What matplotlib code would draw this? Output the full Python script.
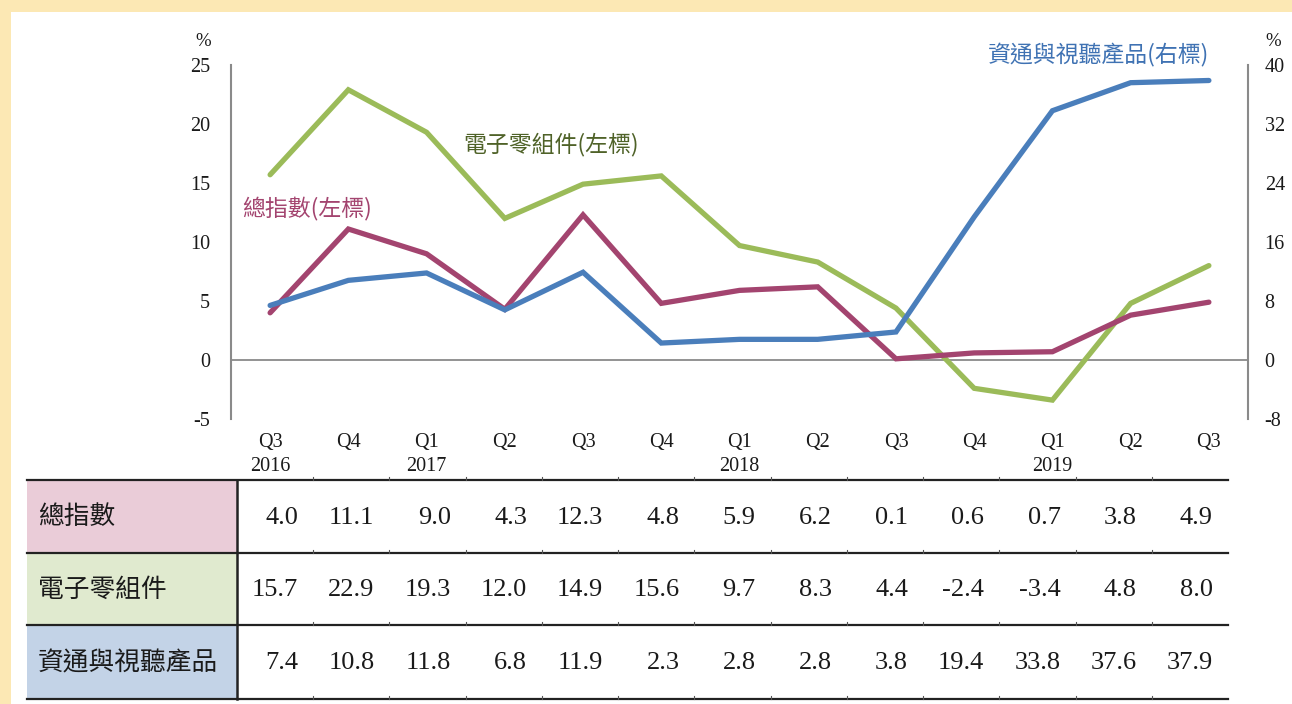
import matplotlib
matplotlib.use("Agg")
import matplotlib.pyplot as plt
from matplotlib.patches import Rectangle
from matplotlib.lines import Line2D

# ---------------- data ----------------
quarters = ["Q3\n2016", "Q4", "Q1\n2017", "Q2", "Q3", "Q4", "Q1\n2018",
            "Q2", "Q3", "Q4", "Q1\n2019", "Q2", "Q3"]
total_index = [4.0, 11.1, 9.0, 4.3, 12.3, 4.8, 5.9, 6.2, 0.1, 0.6, 0.7, 3.8, 4.9]
electronic = [15.7, 22.9, 19.3, 12.0, 14.9, 15.6, 9.7, 8.3, 4.4, -2.4, -3.4, 4.8, 8.0]
ict_av = [7.4, 10.8, 11.8, 6.8, 11.9, 2.3, 2.8, 2.8, 3.8, 19.4, 33.8, 37.6, 37.9]

row_names = ["總指數", "電子零組件", "資通與視聽產品"]
ann_total = "總指數(左標)"
ann_elec = "電子零組件(左標)"
ann_ict = "資通與視聽產品(右標)"
left_ticks = [-5, 0, 5, 10, 15, 20, 25]
right_ticks = [-8, 0, 8, 16, 24, 32, 40]

# ---------------- style ----------------
C_TOTAL = "#A3446F"
C_ELEC = "#9BBB59"
C_ICT = "#4A7EBB"
C_ELEC_TXT = "#4F6228"
C_ICT_TXT = "#3F72B3"
ROW_COLORS = ["#EACCD8", "#E0EACF", "#C3D3E7"]
GRAY = "#8A8A8A"
TXT = "#1A1A1A"

plt.rcParams["font.family"] = ["Liberation Serif", "DejaVu Serif"]
plt.rcParams["axes.unicode_minus"] = False
CJK = ["Noto Sans CJK TC", "DejaVu Sans"]

W, H = 1292, 704
fig = plt.figure(figsize=(W / 100, H / 100), dpi=100, facecolor="#FCE8B4")


def px(x, y):
    return x / W, 1 - y / H


# white panel
fig.patches.append(Rectangle(px(11, H), 1 - 11 / W, 1 - 12 / H,
                             transform=fig.transFigure, facecolor="white",
                             edgecolor="none", zorder=-5))

# ---------------- chart ----------------
L, R, T, B = 231, 1248, 65, 419
ax = fig.add_axes([L / W, 1 - B / H, (R - L) / W, (B - T) / H])
ax.patch.set_alpha(0)
ax2 = ax.twinx()
ax2.patch.set_alpha(0)

x = list(range(len(quarters)))
ax.plot(x, electronic, color=C_ELEC, lw=3.8, solid_capstyle="round", solid_joinstyle="miter", zorder=3)
ax.plot(x, total_index, color=C_TOTAL, lw=3.8, solid_capstyle="round", solid_joinstyle="miter", zorder=3)
ax2.plot(x, ict_av, color=C_ICT, lw=3.8, solid_capstyle="round", solid_joinstyle="miter", zorder=3)

ax.set_xlim(-0.5, len(quarters) - 0.5)
ax.set_ylim(-5, 25)
ax2.set_ylim(-8, 40)
ax.set_yticks(left_ticks)
ax2.set_yticks(right_ticks)
ax.set_xticks(x)
ax.set_xticklabels(quarters, linespacing=1.4)
ax.axhline(0, color=GRAY, lw=1.3, zorder=1)

for a in (ax, ax2):
    for s in ("top", "bottom"):
        a.spines[s].set_visible(False)
ax.spines["right"].set_visible(False)
ax2.spines["left"].set_visible(False)
ax.spines["left"].set_color(GRAY)
ax.spines["left"].set_linewidth(1.5)
ax2.spines["right"].set_color(GRAY)
ax2.spines["right"].set_linewidth(1.5)

ax.tick_params(axis="y", length=0, pad=15, labelsize=14.5, labelcolor=TXT)
ax.tick_params(axis="x", length=0, pad=10, labelsize=14.5, labelcolor=TXT)
ax2.tick_params(axis="y", length=0, pad=12, labelsize=14.5, labelcolor=TXT)

fig.text(*px(203, 42), "%", ha="center", va="center", fontsize=13.5, color=TXT)
fig.text(*px(1273, 42), "%", ha="center", va="center", fontsize=13.5, color=TXT)

fig.text(*px(463, 145), ann_elec, ha="left", va="center", fontsize=16.5,
         color=C_ELEC_TXT, family=CJK)
fig.text(*px(242, 208), ann_total, ha="left", va="center", fontsize=16.5,
         color=C_TOTAL, family=CJK)
fig.text(*px(988, 55), ann_ict, ha="left", va="center", fontsize=16.5,
         color=C_ICT_TXT, family=CJK)

# ---------------- table ----------------
TL, TR = 27, 1228
DIV = 237
row_tops = [480, 553, 625]
row_bot = 699
ncol = len(quarters)
colw = (TR - DIV) / ncol
rows = [total_index, electronic, ict_av]

for i, (name, vals) in enumerate(zip(row_names, rows)):
    top = row_tops[i]
    bot = row_tops[i + 1] if i + 1 < len(row_tops) else row_bot
    x0, y0 = px(TL, bot)
    fig.patches.append(Rectangle((x0, y0), (DIV - TL) / W, (bot - top) / H,
                                 transform=fig.transFigure, facecolor=ROW_COLORS[i],
                                 edgecolor="none", zorder=1))
    yc = (top + bot) / 2
    fig.text(*px(38, yc + 1), name, ha="left", va="center", fontsize=18.5,
             color=TXT, family=CJK)
    for j, v in enumerate(vals):
        xr = DIV + colw * (j + 1) - 15
        fig.text(*px(xr, yc + 1), f"{v:.1f}", ha="right", va="center",
                 fontsize=19, color=TXT)

for y in row_tops + [row_bot]:
    fig.add_artist(Line2D([TL / W, TR / W], [1 - y / H, 1 - y / H],
                          transform=fig.transFigure, color="#222222", lw=1.6, zorder=3))
    # small column tick marks
    for j in range(1, ncol):
        xc = DIV + colw * j
        fig.add_artist(Line2D([xc / W, xc / W], [1 - y / H, 1 - (y - 3) / H],
                              transform=fig.transFigure, color="#555555", lw=0.8, zorder=3))
fig.add_artist(Line2D([DIV / W, DIV / W], [1 - row_tops[0] / H, 1 - row_bot / H],
                      transform=fig.transFigure, color="#222222", lw=1.8, zorder=3))

fig.savefig("out.png", dpi=100, facecolor=fig.get_facecolor())
